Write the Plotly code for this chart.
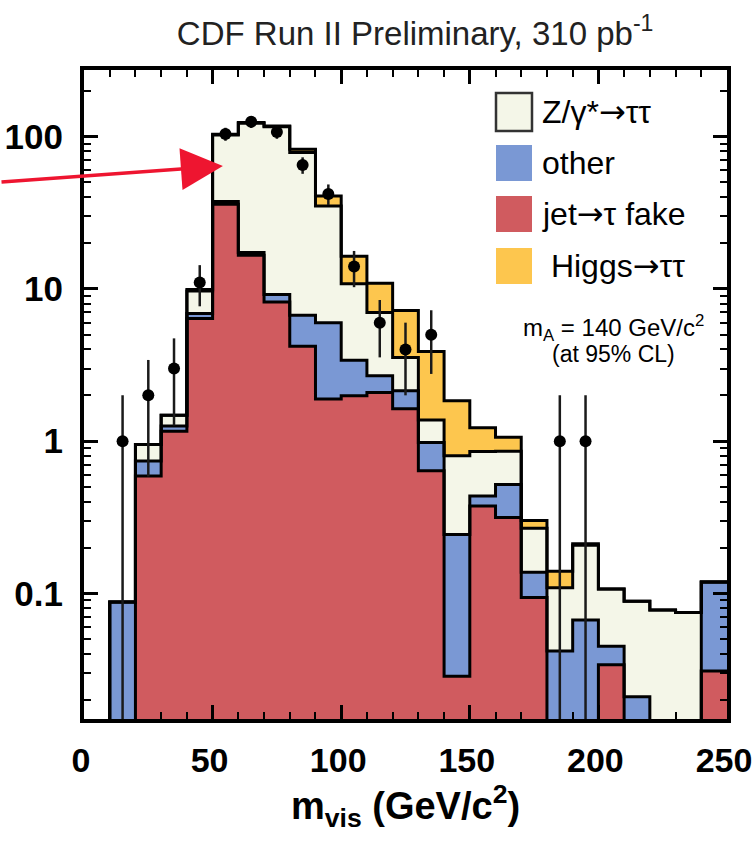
import numpy as np
import plotly.graph_objects as go

# ---------------- data ----------------
bin_edges = list(range(10, 251, 10))                # 10 ... 250 GeV/c^2
bin_centers = [e + 5 for e in bin_edges[:-1]]       # 15 ... 245

jet_fake = [0, 0.59, 1.16, 6.4, 36, 16.6, 8.2, 4.2, 1.89, 1.99, 2.09, 1.63,
            0.64, 0.0286, 0.375, 0.315, 0.094, 0, 0, 0.034, 0, 0, 0, 0.031]
other = [0.088, 0.15, 0.10, 0.5, 1.5, 0.7, 1.0, 2.5, 4.1, 1.41, 0.60, 0.51,
         0.34, 0.215, 0.061, 0.205, 0.044, 0.042, 0.067, 0.011, 0.021, 0, 0, 0.088]
ztautau = [0, 0.21, 0.22, 2.8, 65, 105, 107, 72, 29, 7.4, 4.3, 1.41,
           0.40, 0.56, 0.42, 0.34, 0.13, 0.067, 0.14, 0.062, 0.068, 0.078, 0.075, 0]
higgs = [0, 0, 0, 0.2, 1.2, 1.5, 1.2, 4.0, 5.7, 5.6, 3.9, 3.65,
         2.5, 1.04, 0.37, 0.20, 0.033, 0.031, 0.005, 0, 0, 0, 0, 0]

data_mass = [15, 25, 35, 45, 55, 65, 75, 85, 95, 105, 115, 125, 135, 185, 195]
data_counts = [1, 2, 3, 11, 104, 125, 107, 65, 42, 14, 6, 4, 5, 1, 1]

y_ticks = [0.1, 1, 10, 100]
y_ticktext = ["0.1", "1", "10", "100"]
x_ticks = [0, 50, 100, 150, 200, 250]
x_ticktext = ["0", "50", "100", "150", "200", "250"]

# ---------------- styles ----------------
C_Z = "#F4F6E8"
C_OTHER = "#7A98D4"
C_FAKE = "#D05B5F"
C_HIGGS = "#FDC64E"
FONT = "Liberation Sans, Arial, Helvetica, sans-serif"
ARROW = '<span style="font-family:DejaVu Sans">→</span>'
FLOOR = 1e-3   # stands in for empty bins on the log axis (below visible range)

fig = go.Figure()

layers = [("jet→τ fake", jet_fake, C_FAKE),
          ("other", other, C_OTHER),
          ("Z/γ*→ττ", ztautau, C_Z),
          ("Higgs→ττ", higgs, C_HIGGS)]

for name, vals, col in layers:
    fig.add_trace(go.Bar(
        x=bin_centers, y=vals, width=10, name=name,
        marker=dict(color=col, line=dict(color=col, width=1)),
        showlegend=False, hoverinfo="skip"))

# step outlines on top of every stacked layer
cum = np.zeros(len(bin_centers))
for name, vals, col in layers:
    cum = cum + np.array(vals, dtype=float)
    yv = np.where(cum > 0, cum, FLOOR)
    xs = [bin_edges[0]] + bin_edges
    ys = [FLOOR] + list(yv) + [yv[-1]]
    fig.add_trace(go.Scatter(
        x=xs, y=ys, mode="lines", line=dict(color="black", width=3, shape="hv"),
        showlegend=False, hoverinfo="skip"))

# data points
fig.add_trace(go.Scatter(
    x=data_mass, y=data_counts, mode="markers",
    marker=dict(color="black", size=12),
    error_y=dict(type="data", array=list(np.sqrt(data_counts)), visible=True,
                 color="#1a1a1a", thickness=2.5, width=0),
    showlegend=False, name="data"))

# ---------------- axes ----------------
axis_common = dict(showline=True, linewidth=4, linecolor="black", mirror="allticks",
                   ticks="inside", showgrid=False, zeroline=False, automargin=False,
                   tickcolor="black", ticklabeloverflow="allow")

fig.update_xaxes(range=[0, 250], tickmode="array", tickvals=x_ticks, ticktext=x_ticktext,
                 ticklen=14, tickwidth=3, ticklabelstandoff=8, ticklabelshift=-3,
                 tickfont=dict(family=FONT, size=34, color="black", weight="bold"),
                 minor=dict(ticks="inside", dtick=10, tick0=0, ticklen=7, tickwidth=2,
                            tickcolor="black", showgrid=False),
                 title=dict(text="m<sub>vis</sub> (GeV/c<sup>2</sup>)", standoff=8,
                            font=dict(family=FONT, size=38, color="black", weight="bold")),
                 **axis_common)

minor_vals = [m * 10.0 ** d for d in range(-2, 3) for m in range(2, 10)]
fig.update_yaxes(type="log", range=[-1.824, 2.437], tickmode="array",
                 tickvals=y_ticks, ticktext=y_ticktext,
                 ticklen=14, tickwidth=3, ticklabelstandoff=10,
                 tickfont=dict(family=FONT, size=35, color="black", weight="bold"),
                 minor=dict(ticks="inside", tickmode="array", tickvals=minor_vals,
                            ticklen=7, tickwidth=2, tickcolor="black", showgrid=False),
                 **axis_common)

# ---------------- legend (drawn manually) ----------------
def px_x(p):
    return (p - 84) / 643.0

def px_y(p):
    return 1 - (p - 70) / 649.0

legend_rows = [("Z/γ*" + ARROW + "ττ", C_Z, 93, 131, 540),
               ("other", C_OTHER, 145, 181, 540),
               ("jet" + ARROW + "τ fake", C_FAKE, 196, 232, 540),
               (" Higgs" + ARROW + "ττ", C_HIGGS, 248, 284, 540)]
shapes = []
annotations = []
for label, col, y0, y1, tx in legend_rows:
    shapes.append(dict(type="rect", xref="paper", yref="paper",
                       x0=px_x(496), x1=px_x(532), y0=px_y(y1), y1=px_y(y0),
                       fillcolor=col,
                       line=dict(color="#333" if col == C_Z else col, width=2.5 if col == C_Z else 0)))
    annotations.append(dict(xref="paper", yref="paper", x=px_x(tx), y=px_y((y0 + y1) / 2),
                            text=label, showarrow=False, xanchor="left", yanchor="middle",
                            font=dict(family=FONT, size=32, color="black")))

annotations.append(dict(xref="paper", yref="paper", x=px_x(613), y=px_y(328),
                        text="m<sub>A</sub> = 140 GeV/c<sup>2</sup>", showarrow=False,
                        xanchor="center", yanchor="middle",
                        font=dict(family=FONT, size=24, color="black")))
annotations.append(dict(xref="paper", yref="paper", x=px_x(613), y=px_y(354),
                        text="(at 95% CL)", showarrow=False,
                        xanchor="center", yanchor="middle",
                        font=dict(family=FONT, size=23, color="black")))

# red arrow pointing at the Z peak
annotations.append(dict(xref="x", yref="y", x=54, y=np.log10(64), text="",
                        showarrow=True, axref="pixel", ayref="pixel", ax=-224, ay=16,
                        arrowcolor="#EE1530", arrowwidth=3.5, arrowhead=2, arrowsize=2.4,
                        standoff=0))

fig.update_layout(
    width=755, height=852,
    margin=dict(l=84, r=28, t=70, b=133, autoexpand=False),
    plot_bgcolor="white", paper_bgcolor="white",
    barmode="stack", bargap=0,
    title=dict(text="CDF Run II Preliminary, 310 pb<sup>-1</sup>",
               x=0.515, xref="paper", xanchor="center",
               y=1 - 33 / 852.0, yref="container", yanchor="middle",
               font=dict(family=FONT, size=33, color="#222")),
    shapes=shapes, annotations=annotations,
)

fig.write_html("out.html", config={"displayModeBar": False},
               post_script="document.body.style.margin='0px';")
